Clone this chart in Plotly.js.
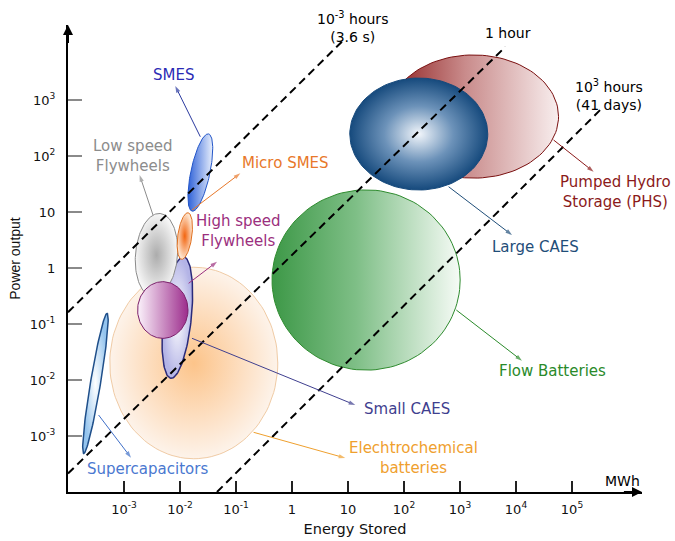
<!DOCTYPE html>
<html>
<head>
<meta charset="utf-8">
<script src="https://cdn.plot.ly/plotly-3.0.1.min.js"></script>
<style>html,body{margin:0;padding:0;background:#fff;}#chart{width:675px;height:541px;}</style>
</head>
<body>
<div id="chart"></div>
<script>
// ---- Data (log10 units: energy in MWh, power in MW) ----
const techNames = ['Elechtrochemical batteries','Supercapacitors','Flow Batteries','Pumped Hydro Storage (PHS)','Large CAES','Small CAES','Low speed Flywheels','Micro SMES','High speed Flywheels','SMES'];
const energyCenterLog = [-1.754, -3.51, 1.323, 3.24, 2.264, -2.048, -2.42, -1.914, -2.307, -1.637];
const powerCenterLog  = [-1.696, -2.06, -0.214, 2.705, 2.393, -0.884, 0.232, 0.571, -0.75, 1.705];
const majorSpanLog    = [1.50, 1.27, 1.68, 1.52, 1.232, 1.09, 0.745, 0.42, 0.45, 0.705];
const minorSpanLog    = [1.71, 0.09, 1.61, 1.10, 1.00, 0.25, 0.375, 0.125, 0.506, 0.17];
const tiltDeg         = [0, 80.5, 0, 0, 0, 84, 85, 82, 0, 78];

// discharge-time reference lines (endpoints, log10)
const lineNames   = ['10^-3 hours', '1 hour', '10^3 hours'];
const lineEnergyLog = [[-4, 0.95], [-4, 3.81], [-1.34, 5.5]];
const linePowerLog  = [[-0.79, 4.10], [-3.67, 3.95], [-4.0, 2.82]];

// axis ticks
const xTickVals = [-3, -2, -1, 0, 1, 2, 3, 4, 5];
const xTickText = ['10<sup>-3</sup>','10<sup>-2</sup>','10<sup>-1</sup>','1','10','10<sup>2</sup>','10<sup>3</sup>','10<sup>4</sup>','10<sup>5</sup>'];
const yTickVals = [-3, -2, -1, 0, 1, 2, 3];
const yTickText = ['10<sup>-3</sup>','10<sup>-2</sup>','10<sup>-1</sup>','1','10','10<sup>2</sup>','10<sup>3</sup>'];

// labels and leader arrows
const labelText = ['Elechtrochemical<br>batteries','Supercapacitors','Flow Batteries','Pumped Hydro<br>Storage (PHS)','Large CAES','Small CAES','Low speed<br>Flywheels','Micro SMES','High speed<br>Flywheels','SMES'];
const labelEnergyLog = [2.166, -2.584, 4.648, 5.773, 4.345, 2.059, -2.834, -0.12, -0.959, -2.12];
const labelPowerLog  = [-3.393, -3.589, -1.839, 1.357, 0.375, -2.518, 2.0, 1.875, 0.661, 3.446];
const arrowTailE = [-0.686, -3.454, 2.934, 4.671, 2.796, -1.786, -2.482, -1.786, -1.846, -1.6375];
const arrowTailP = [-2.934, -2.625, -0.75, 2.286, 1.452, -1.255, 0.946, 1.036, -0.273, 2.345];
const arrowHeadE = [0.952, -2.875, 4.107, 5.386, 3.929, 1.130, -2.721, -0.923, -1.339, -2.084];
const arrowHeadP = [-3.393, -3.3875, -1.655, 1.720, 0.589, -2.446, 1.661, 1.691, 0.1125, 3.25];

const lineLabelText = ['10<sup>-3</sup> hours<br>(3.6 s)', '1 hour', '10<sup>3</sup> hours<br>(41 days)'];
const lineLabelE = [1.077, 3.863, 5.666];
const lineLabelP = [4.30, 4.196, 3.089];

// axis extents (log10)
const xAxisRange = [-4, 6.25];
const yAxisRange = [-4, 4.34];

// ---- Styles ----
const textColors = ['#efa02e','#4a78d0','#2a8a2a','#8b1a1a','#1f4e79','#3f3f8f','#8c8c8c','#e8782a','#9b2f7e','#2b2bb5'];
const arrowColors = ['#efa02e','#3f6fc8','#2a8a2a','#8b1a1a','#1f4e79','#3f3f8f','#8c8c8c','#e8782a','#9b2f7e','#2b3a9f'];
const strokeColors = ['#f0cba5','#1f4f8a','#2e8b2e','#7a1010','#174a7c','#2a2a7a','#8a8a8a','#e07020','#7a1f6a','#2255c8'];
const gradients = [
  {type:'radial', colorscale:[[0,'#fcc48a'],[0.6,'#fde0c4'],[1,'#fdf3ea']]},
  {type:'radial', colorscale:[[0,'#ffffff'],[1,'#94c4ee']]},
  {type:'horizontal', colorscale:[[0,'#3d9847'],[0.45,'#7fbf87'],[1,'#f6fbf6']]},
  {type:'horizontal', colorscale:[[0,'#8e1f1f'],[0.45,'#c98b8b'],[1,'#f8eeee']]},
  {type:'radial', colorscale:[[0,'#f2f6fb'],[0.5,'#6c92b9'],[1,'#164a7d']]},
  {type:'radial', colorscale:[[0,'#ffffff'],[1,'#b4b4e6']]},
  {type:'radial', colorscale:[[0,'#acacac'],[1,'#f6f6f6']]},
  {type:'radial', colorscale:[[0,'#f26510'],[1,'#fde3cc']]},
  {type:'horizontal', colorscale:[[0,'#fbf2fb'],[1,'#9c2c8c']]},
  {type:'horizontal', colorscale:[[0,'#2f62d8'],[1,'#e8effc']]}
];

function ellipse(cx, cy, a, b, deg) {
  const th = deg * Math.PI / 180, xs = [], ys = [];
  for (let i = 0; i <= 120; i++) {
    const t = 2 * Math.PI * i / 120;
    const u = a * Math.cos(t), v = b * Math.sin(t);
    xs.push(cx + u * Math.cos(th) - v * Math.sin(th));
    ys.push(cy + u * Math.sin(th) + v * Math.cos(th));
  }
  return {xs, ys};
}

function arrowTrace(name, xs, ys, color, width, headSize) {
  return {
    type:'scatter', mode:'lines+markers', name:name, x:xs, y:ys,
    line:{color:color, width:width},
    marker:{symbol:['circle','arrow'], size:[0, headSize], angleref:'previous', color:color, line:{width:0}},
    cliponaxis:false, hoverinfo:'skip', showlegend:false
  };
}

const traces = [];
techNames.forEach((n, i) => {
  const e = ellipse(energyCenterLog[i], powerCenterLog[i], majorSpanLog[i], minorSpanLog[i], tiltDeg[i]);
  traces.push({
    type:'scatter', mode:'lines', name:n, x:e.xs, y:e.ys,
    fill:'toself', fillgradient:gradients[i],
    line:{color:strokeColors[i], width: (i===1||i===5) ? 1.5 : 1},
    hoverinfo:'skip', showlegend:false
  });
});
lineNames.forEach((n, i) => {
  traces.push({
    type:'scatter', mode:'lines', name:n, x:lineEnergyLog[i], y:linePowerLog[i],
    line:{color:'#000', width:2, dash:'8px,5px'}, hoverinfo:'skip', showlegend:false
  });
});
techNames.forEach((n, i) => {
  traces.push(arrowTrace(n + ' pointer', [arrowTailE[i], arrowHeadE[i]], [arrowTailP[i], arrowHeadP[i]], arrowColors[i], 1, 7));
});

const FONT = 'DejaVu Sans, Verdana, sans-serif';
const annotations = [];
techNames.forEach((n, i) => {
  annotations.push({
    x:labelEnergyLog[i], y:labelPowerLog[i], xref:'x', yref:'y', text:labelText[i],
    showarrow:false, font:{family:FONT, size:15, color:textColors[i]}, align:'center'
  });
});
lineNames.forEach((n, i) => {
  annotations.push({
    x:lineLabelE[i], y:lineLabelP[i], xref:'x', yref:'y', text:lineLabelText[i],
    showarrow:false, font:{family:FONT, size:14, color:'#000'}, align:'center'
  });
});
// axis arrowheads
annotations.push({x:xAxisRange[1], y:yAxisRange[0], ax:xAxisRange[1] - 0.35, ay:yAxisRange[0], xref:'x', yref:'y', axref:'x', ayref:'y', text:'', showarrow:true, arrowhead:2, arrowsize:1, arrowwidth:2, arrowcolor:'#000', standoff:0});
annotations.push({x:xAxisRange[0], y:yAxisRange[1], ax:xAxisRange[0], ay:yAxisRange[1] - 0.35, xref:'x', yref:'y', axref:'x', ayref:'y', text:'', showarrow:true, arrowhead:2, arrowsize:1, arrowwidth:2, arrowcolor:'#000', standoff:0});
annotations.push({x:5.898, y:-3.80, xref:'x', yref:'y', text:'MWh', showarrow:false, font:{family:FONT, size:14, color:'#000'}});
annotations.push({x:-4.316, y:4.07, xref:'x', yref:'y', text:'MW', textangle:-90, showarrow:false, font:{family:'Liberation Sans, Arial, sans-serif', size:14, color:'#000'}});

const layout = {
  width:675, height:541,
  margin:{l:68, r:33, t:25, b:49},
  paper_bgcolor:'#fff', plot_bgcolor:'#fff',
  showlegend:false,
  xaxis:{
    range:xAxisRange, tickvals:xTickVals, ticktext:xTickText,
    ticks:'inside', ticklen:11, tickwidth:2, tickcolor:'#222',
    showline:true, linewidth:2, linecolor:'#000', showgrid:false, zeroline:false,
    ticklabelstandoff:4,
    tickfont:{family:FONT, size:13, color:'#111'},
    title:{text:'Energy Stored', font:{family:FONT, size:14.5, color:'#111'}, standoff:8},
    fixedrange:true
  },
  yaxis:{
    range:yAxisRange, tickvals:yTickVals, ticktext:yTickText,
    ticks:'inside', ticklen:14, tickwidth:1.5, tickcolor:'#8a8a8a',
    showline:true, linewidth:2, linecolor:'#000', showgrid:false, zeroline:false,
    ticklabelstandoff:8,
    tickfont:{family:FONT, size:13, color:'#111'},
    title:{text:'Power output', font:{family:'Liberation Sans, Arial, sans-serif', size:14, color:'#111'}, standoff:6},
    fixedrange:true
  },
  annotations:annotations
};

Plotly.newPlot('chart', traces, layout, {staticPlot:true, displayModeBar:false});
</script>
</body>
</html>
